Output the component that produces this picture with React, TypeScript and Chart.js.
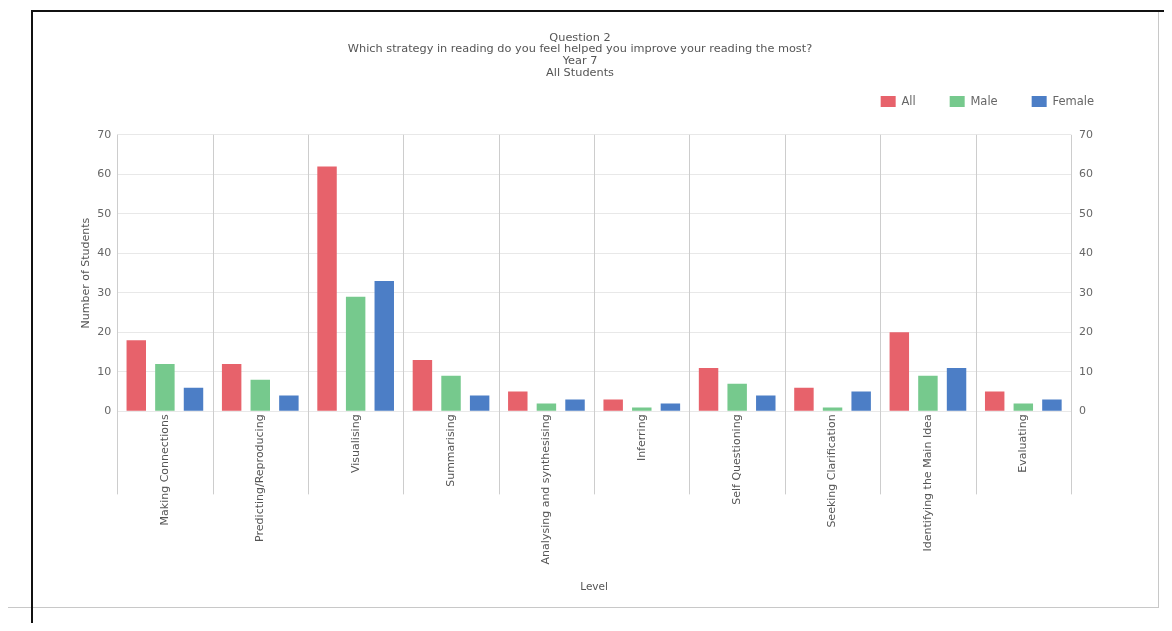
import React, { useEffect, useRef } from "react";
import { Chart, registerables } from "chart.js";

Chart.register(...registerables);

const categories = [
  "Making Connections",
  "Predicting/Reproducing",
  "Visualising",
  "Summarising",
  "Analysing and synthesising",
  "Inferring",
  "Self Questioning",
  "Seeking Clarification",
  "Identifying the Main Idea",
  "Evaluating",
];
const allValues = [18, 12, 62, 13, 5, 3, 11, 6, 20, 5];
const maleValues = [12, 8, 29, 9, 2, 1, 7, 1, 9, 2];
const femaleValues = [6, 4, 33, 4, 3, 2, 4, 5, 11, 3];
const titleLines = [
  "Question 2",
  "Which strategy in reading do you feel helped you improve your reading the most?",
  "Year 7",
  "All Students",
];

const FONT = "'DejaVu Sans', 'Liberation Sans', sans-serif";

const boundaryLines = {
  id: "boundaryLines",
  afterInit(chart: any) {
    const lg = chart.legend;
    if (lg && !lg.__patched) {
      const orig = lg.fit.bind(lg);
      lg.fit = function () {
        orig();
        this.height += 17.5;
      };
      lg.__patched = true;
    }
  },
  beforeDatasetsDraw(chart: any) {
    const xs = chart.scales.x;
    const area = chart.chartArea;
    const n = chart.data.labels.length;
    const ctx = chart.ctx;
    const half = (xs.getPixelForValue(1) - xs.getPixelForValue(0)) / 2;
    ctx.save();
    ctx.strokeStyle = "#cdcdcd";
    ctx.lineWidth = 1;
    for (let i = 0; i <= n; i++) {
      const x = Math.round(xs.getPixelForValue(i) - half) + 0.5;
      ctx.beginPath();
      ctx.moveTo(x, area.top);
      ctx.lineTo(x, area.bottom + 83);
      ctx.stroke();
    }
    ctx.restore();
  },
};

export default function App() {
  const ref = useRef<HTMLCanvasElement | null>(null);
  useEffect(() => {
    if (!ref.current) return;
    const chart = new Chart(ref.current, {
      type: "bar",
      data: {
        labels: categories,
        datasets: [
          { label: "All", data: allValues, backgroundColor: "#e7626b", yAxisID: "y" },
          { label: "Male", data: maleValues, backgroundColor: "#76c98d", yAxisID: "y" },
          { label: "Female", data: femaleValues, backgroundColor: "#4c7ec6", yAxisID: "y" },
        ],
      },
      plugins: [boundaryLines],
      options: {
        animation: false,
        responsive: false,
        layout: { padding: { left: 0, right: 0, top: 0, bottom: 0 } },
        datasets: { bar: { categoryPercentage: 0.9, barPercentage: 0.68 } },
        plugins: {
          title: {
            display: true,
            text: titleLines,
            color: "#555",
            font: { family: FONT, size: 11.3, weight: "normal", lineHeight: "11.7px" },
            padding: { top: 10, bottom: -17 },
          },
          legend: {
            position: "top",
            align: "end",
            labels: {
              boxWidth: 15,
              boxHeight: 11,
              color: "#666",
              font: { family: FONT, size: 11.5 },
              padding: 34,
            },
          },
          tooltip: { enabled: false },
        },
        scales: {
          x: {
            offset: true,
            grid: { display: false, drawTicks: false },
            border: { display: false },
            ticks: {
              minRotation: 90,
              maxRotation: 90,
              autoSkip: false,
              color: "#555",
              padding: 3,
              font: { family: FONT, size: 11 },
            },
            title: {
              display: true,
              text: "Level",
              color: "#555",
              font: { family: FONT, size: 10.5 },
              padding: { top: 14, bottom: 10 },
            },
          },
          y: {
            position: "left",
            min: 0,
            max: 70,
            ticks: { stepSize: 10, color: "#666", font: { family: FONT, size: 11 }, padding: 6 },
            grid: { color: "#e8e8e8", drawTicks: false },
            border: { display: false },
            title: {
              display: true,
              text: "Number of Students",
              color: "#555",
              font: { family: FONT, size: 11 },
              padding: { top: 48, bottom: -2 },
            },
          },
          y1: {
            position: "right",
            min: 0,
            max: 70,
            afterFit: (s: any) => {
              s.width = 57;
            },
            ticks: { stepSize: 10, color: "#666", font: { family: FONT, size: 11 }, padding: 8 },
            grid: { display: false, drawTicks: false },
            border: { display: false },
          },
        },
      },
    });
    return () => chart.destroy();
  }, []);

  return (
    <div style={{ position: "relative", width: 1156, height: 615 }}>
      <div style={{ position: "absolute", left: -1, top: 2, width: 1150, height: 597, border: "1px solid #c8c8c8", borderTop: "none" }} />
      <div style={{ position: "absolute", left: 23, top: 2, width: 1141, height: 2, background: "#111" }} />
      <div style={{ position: "absolute", left: 23, top: 2, width: 2, height: 621, background: "#111" }} />
      <canvas
        ref={ref}
        width={1096}
        height={582}
        style={{ position: "absolute", left: 24, top: 14, width: 1096, height: 582 }}
      />
    </div>
  );
}
